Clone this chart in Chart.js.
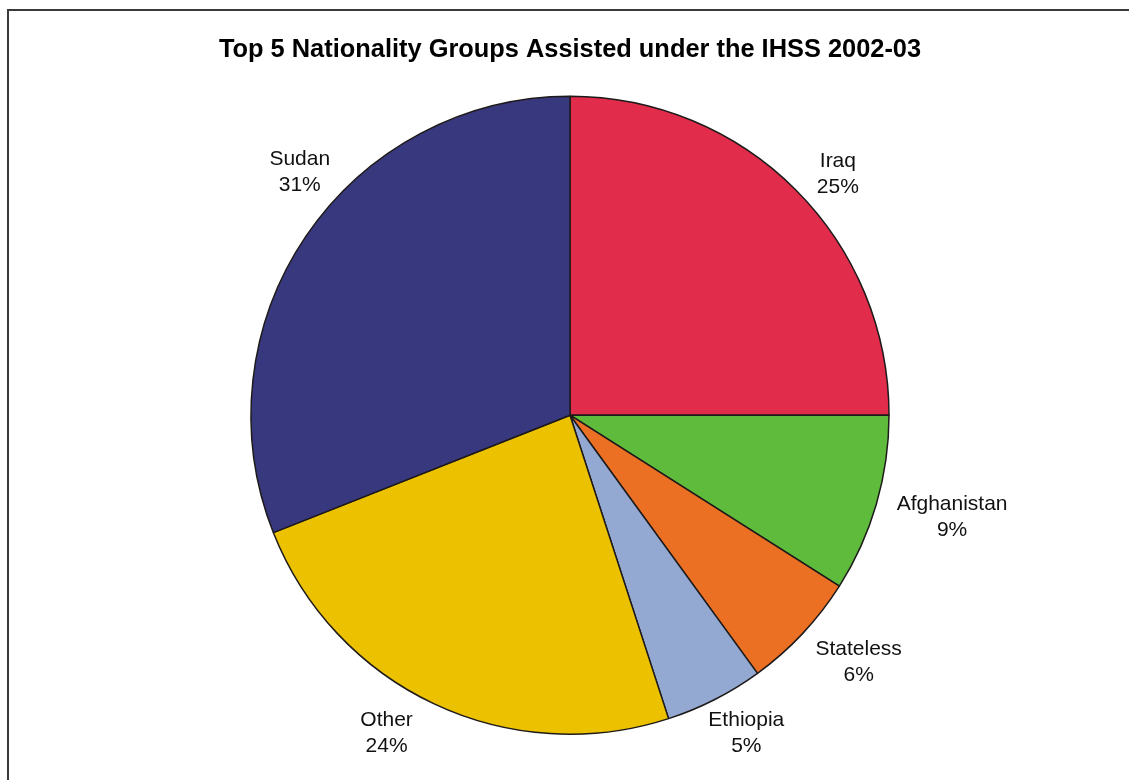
<!DOCTYPE html>
<html>
<head>
<meta charset="utf-8">
<script src="https://cdn.jsdelivr.net/npm/chart.js@4/dist/chart.umd.min.js"></script>
<style>
  html, body { margin: 0; padding: 0; background: #fff; }
  #wrap { position: relative; width: 1129px; height: 780px; overflow: hidden; }
  #wrap canvas { position: absolute; left: 0; top: 0; }
  #frame {
    position: absolute; left: 7px; top: 9px; right: -10px; bottom: -10px;
    border-left: 2px solid #3a3a3a; border-top: 2px solid #3a3a3a;
    pointer-events: none;
  }
</style>
</head>
<body>
<div id="wrap">
  <canvas id="chart" width="1129" height="780"></canvas>
  <div id="frame"></div>
</div>
<script>
// Nationality groups, clockwise from twelve o'clock
const nationalities = ['Iraq', 'Afghanistan', 'Stateless', 'Ethiopia', 'Other', 'Sudan'];
const sharePercent  = [25, 9, 6, 5, 24, 31];

const sliceColours = ['#E12D4B', '#5EBB3C', '#EB7024', '#93A9D2', '#EBC100', '#38387F'];

// Where each outside label sits: distance as a multiple of the radius,
// and an angular nudge (degrees, clockwise) from the slice's mid-angle
const labelRadius = [1.13, 1.24, 1.19, 1.14, 1.15, 1.14];
const labelShift  = [3, -1.2, -2.7, -2, 4.8, 7.8];

const FONT = '"Liberation Sans", Arial, Helvetica, sans-serif';

// Two-line "name / percent" labels placed around the pie
const outsideLabels = {
  id: 'outsideLabels',
  afterDatasetsDraw(chart) {
    const ctx = chart.ctx;
    const meta = chart.getDatasetMeta(0);
    ctx.save();
    ctx.font = '21px ' + FONT;
    ctx.fillStyle = '#111';
    ctx.textAlign = 'center';
    ctx.textBaseline = 'middle';
    meta.data.forEach((arc, i) => {
      const p = arc.getProps(['x', 'y', 'startAngle', 'endAngle', 'outerRadius'], true);
      const a = (p.startAngle + p.endAngle) / 2 + labelShift[i] * Math.PI / 180;
      const r = p.outerRadius * labelRadius[i];
      const lx = p.x + Math.cos(a) * r;
      const ly = p.y + Math.sin(a) * r;
      ctx.fillText(nationalities[i], lx, ly - 13);
      ctx.fillText(sharePercent[i] + '%', lx, ly + 13);
    });
    ctx.restore();
  }
};

new Chart(document.getElementById('chart'), {
  type: 'pie',
  data: {
    labels: nationalities,
    datasets: [{
      data: sharePercent,
      backgroundColor: sliceColours,
      borderColor: '#1e1a1a',
      borderWidth: 1.5
    }]
  },
  options: {
    responsive: false,
    animation: false,
    layout: { padding: { left: 198, right: 187, top: 0, bottom: 45 } },
    plugins: {
      legend: { display: false },
      tooltip: { enabled: false },
      title: {
        display: true,
        text: 'Top 5 Nationality Groups Assisted under the IHSS 2002-03',
        color: '#000',
        font: { family: FONT, size: 25.4, weight: 'bold' },
        padding: { top: 35, bottom: 30 }
      }
    }
  },
  plugins: [outsideLabels]
});
</script>
</body>
</html>
